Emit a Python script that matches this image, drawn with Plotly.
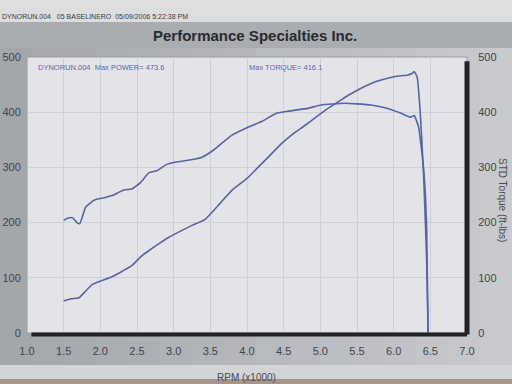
import plotly.graph_objects as go

# ---- data read from the dyno sheet ----
power_rpm = [1.50, 1.60, 1.71, 1.80, 1.89, 2.00, 2.16, 2.30, 2.43, 2.55, 2.66, 2.80, 2.93,
             3.10, 3.25, 3.43, 3.60, 3.79, 4.00, 4.15, 4.30, 4.47, 4.62, 4.78, 4.95,
             5.14, 5.28, 5.40, 5.55, 5.75, 5.96, 6.10, 6.18, 6.25, 6.28, 6.32, 6.36,
             6.41, 6.45, 6.47]
power_hp = [58, 62, 64, 76, 88, 94, 102, 112, 122, 138, 149, 162, 173,
            185, 195, 206, 230, 258, 280, 300, 320, 343, 360, 375, 392,
            410, 422, 432, 443, 455, 463, 466, 467, 470, 473.6, 464, 404,
            282, 131, 0]

torque_rpm = [1.50, 1.55, 1.62, 1.68, 1.72, 1.80, 1.92, 2.05, 2.16, 2.32, 2.43, 2.55, 2.66,
              2.77, 2.90, 3.00, 3.11, 3.38, 3.55, 3.79, 4.00, 4.20, 4.40, 4.56, 4.83,
              5.01, 5.33, 5.50, 5.69, 5.91, 6.10, 6.23, 6.28, 6.34, 6.41, 6.45, 6.47]
torque_ftlb = [204, 208, 209, 200, 198, 228, 241, 245, 249, 259, 261, 273, 290,
               294, 305, 309, 311, 318, 332, 358, 372, 383, 398, 402, 407,
               413, 416.1, 415, 413, 407, 398, 391, 394, 373, 295, 191, 0]

x_ticks = [1.0, 1.5, 2.0, 2.5, 3.0, 3.5, 4.0, 4.5, 5.0, 5.5, 6.0, 6.5, 7.0]
y_ticks = [0, 100, 200, 300, 400, 500]

# ---- geometry helpers (pixel -> paper) ----
W, H = 512, 384
L, R, T, B = 27, 45, 57, 51
PW, PH = W - L - R, H - T - B


def px(x):
    return (x - L) / PW


def py(y):
    return (H - B - y) / PH


line_col = "#5863a6"
fig = go.Figure()
fig.add_trace(go.Scatter(x=power_rpm, y=power_hp, mode="lines",
                         line=dict(color=line_col, width=1.6, shape="spline", smoothing=0.4),
                         yaxis="y", name="Power", hoverinfo="x+y"))
fig.add_trace(go.Scatter(x=torque_rpm, y=torque_ftlb, mode="lines",
                         line=dict(color=line_col, width=1.6, shape="spline", smoothing=0.4),
                         yaxis="y2", name="Torque", hoverinfo="x+y"))

shapes = []
# photographic background gradient (left darker, right lighter)
n = 16
for i in range(n):
    t = i / (n - 1)
    c = [int(163 + (200 - 163) * t), int(166 + (202 - 166) * t), int(171 + (206 - 171) * t)]
    shapes.append(dict(type="rect", xref="paper", yref="paper", layer="below",
                       x0=px(i * W / n), x1=px((i + 1) * W / n + 1), y0=py(H), y1=py(0),
                       fillcolor="rgb(%d,%d,%d)" % tuple(c), line=dict(width=0)))
# top light strip and header bar
shapes.append(dict(type="rect", xref="paper", yref="paper", layer="below",
                   x0=px(0), x1=px(W), y0=py(22), y1=py(0),
                   fillcolor="#dcdddf", line=dict(width=0)))
shapes.append(dict(type="rect", xref="paper", yref="paper", layer="below",
                   x0=px(0), x1=px(W), y0=py(48), y1=py(22),
                   fillcolor="#a9acb1", line=dict(width=0)))
# bottom lighter band and table edge
shapes.append(dict(type="rect", xref="paper", yref="paper", layer="below",
                   x0=px(0), x1=px(W), y0=py(379), y1=py(365),
                   fillcolor="#d2d4d7", line=dict(width=0)))
shapes.append(dict(type="rect", xref="paper", yref="paper", layer="below",
                   x0=px(0), x1=px(W), y0=py(H), y1=py(379),
                   fillcolor="#a4968a", line=dict(width=0)))
# plot area
shapes.append(dict(type="rect", xref="paper", yref="paper", layer="below",
                   x0=0, x1=1, y0=0, y1=1, fillcolor="#e3e4e8",
                   line=dict(color="#9a9ca2", width=1)))
# thick dark border on right and bottom
shapes.append(dict(type="line", xref="paper", yref="paper", x0=1.0, x1=1.0,
                   y0=-0.005, y1=0.985, line=dict(color="#222226", width=5)))
shapes.append(dict(type="line", xref="paper", yref="paper", x0=0.01, x1=1.0,
                   y0=-0.005, y1=-0.005, line=dict(color="#222226", width=4)))

annotations = [
    dict(text="DYNORUN.004   05 BASELINERO  05/09/2006 5:22:38 PM", xref="paper", yref="paper",
         x=px(0), y=py(16), xanchor="left", yanchor="middle", showarrow=False,
         font=dict(family="Liberation Sans", size=7, color="#3a3a3e")),
    dict(text="<b>Performance Specialties Inc.</b>", xref="paper", yref="paper",
         x=px(255), y=py(35), xanchor="center", yanchor="middle", showarrow=False,
         font=dict(family="Liberation Sans", size=15, color="#2a2a2e")),
    dict(text="DYNORUN.004  Max POWER= 473.6", xref="paper", yref="paper",
         x=px(36), y=py(68), xanchor="left", yanchor="middle", showarrow=False,
         font=dict(family="Liberation Sans", size=7.5, color="#5a66a8")),
    dict(text="Max TORQUE= 416.1", xref="paper", yref="paper",
         x=px(247), y=py(68), xanchor="left", yanchor="middle", showarrow=False,
         font=dict(family="Liberation Sans", size=7.5, color="#5a66a8")),
    dict(text="STD Torque (ft-lbs)", xref="paper", yref="paper", textangle=90,
         x=px(503), y=py(200), xanchor="center", yanchor="middle", showarrow=False,
         font=dict(family="Liberation Sans", size=10, color="#4a4a50")),
    dict(text="RPM (x1000)", xref="paper", yref="paper",
         x=px(246), y=py(377), xanchor="center", yanchor="middle", showarrow=False,
         font=dict(family="Liberation Sans", size=10, color="#4a4a50")),
]

axis_font = dict(family="Liberation Sans", size=11, color="#44444a")
fig.update_layout(
    width=W, height=H, margin=dict(l=L, r=R, t=T, b=B, pad=0, autoexpand=False),
    paper_bgcolor="#b4b7bc", plot_bgcolor="rgba(0,0,0,0)",
    showlegend=False, shapes=shapes, annotations=annotations,
    xaxis=dict(range=[1.0, 7.0], tickvals=x_ticks, ticktext=["%.1f" % v for v in x_ticks],
               showgrid=True, gridcolor="#cfd0d5", gridwidth=1, zeroline=False,
               ticks="outside", ticklen=8, tickcolor="rgba(0,0,0,0)",
               tickfont=axis_font, showline=False, automargin=False),
    yaxis=dict(range=[0, 500], tickvals=y_ticks, showgrid=True, gridcolor="#cfd0d5",
               zeroline=False, ticks="outside", ticklen=3, tickcolor="rgba(0,0,0,0)",
               tickfont=axis_font, showline=False, automargin=False),
    yaxis2=dict(range=[0, 500], tickvals=y_ticks, overlaying="y", side="right",
                showgrid=False, zeroline=False, ticks="outside", ticklen=8,
                tickcolor="rgba(0,0,0,0)", tickfont=axis_font, showline=False,
                automargin=False),
)

fig.write_html("out.html", config={"displayModeBar": False},
               post_script="document.body.style.margin='0';document.body.style.overflow='hidden';")
